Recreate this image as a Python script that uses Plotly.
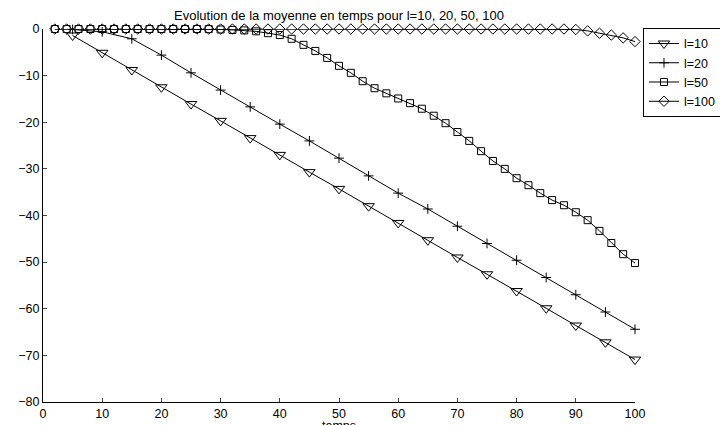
import plotly.graph_objects as go

# ---- data ----
t_coarse = [5, 10, 15, 20, 25, 30, 35, 40, 45, 50, 55, 60, 65, 70, 75, 80, 85, 90, 95, 100]
t_fine = list(range(2, 101, 2))

l10 = [-1.4, -5.1, -8.8, -12.5, -16.1, -19.7, -23.4, -27.0, -30.7, -34.3,
       -38.0, -41.6, -45.3, -49.0, -52.6, -56.2, -59.9, -63.6, -67.2, -70.9]
l20 = [-0.1, -0.6, -2.1, -5.6, -9.4, -13.1, -16.7, -20.4, -24.0, -27.7,
       -31.5, -35.2, -38.6, -42.3, -46.0, -49.6, -53.3, -57.0, -60.7, -64.4]
l50 = [0, 0, 0, 0, 0, 0, 0, 0, 0, 0,
       0, 0, 0, -0.03, -0.1, -0.2, -0.3, -0.5, -0.9, -1.3,
       -2.1, -3.4, -4.7, -6.2, -7.9, -9.4, -11.2, -12.7, -13.8, -14.9,
       -15.9, -17.1, -18.6, -20.2, -22.1, -24.0, -26.2, -28.3, -30.0, -32.0,
       -33.5, -35.2, -36.7, -37.8, -39.3, -41.0, -43.3, -45.9, -48.3, -50.2]
l100 = [0] * 44 + [-0.1, -0.4, -0.9, -1.3, -1.9, -2.7]

names = ["l=10", "l=20", "l=50", "l=100"]
title_text = "Evolution de la moyenne en temps pour l=10, 20, 50, 100"
x_ticks = list(range(0, 101, 10))
y_ticks = list(range(-80, 1, 10))

FONT = "Liberation Sans, Arial, Helvetica, sans-serif"

fig = go.Figure()
series = [
    (t_coarse, l10, names[0], "triangle-down-open", 10),
    (t_coarse, l20, names[1], "cross-thin-open", 7),
    (t_fine, l50, names[2], "square-open", 7),
    (t_fine, l100, names[3], "diamond-open", 8),
]
for xs, ys, nm, sym, sz in series:
    fig.add_trace(go.Scatter(
        x=xs, y=ys, name=nm, mode="lines+markers",
        line=dict(color="black", width=1),
        marker=dict(symbol=sym, size=sz, color="black",
                    line=dict(color="black", width=1)),
        cliponaxis=False,
    ))

# page body adds an 8px offset, so margins are reduced by 8px on left/top
fig.update_layout(
    width=728, height=425,
    margin=dict(l=35, r=101, t=21, b=31, autoexpand=False),
    paper_bgcolor="white", plot_bgcolor="white",
    font=dict(family=FONT, size=12.5, color="black"),
    title=dict(text=title_text, x=0.5, xref="paper", xanchor="center",
               y=1 - 7 / 425, yref="container", yanchor="middle",
               font=dict(size=13)),
    legend=dict(x=1.0135, xanchor="left", y=1.003, yanchor="top",
                bordercolor="black", borderwidth=1, bgcolor="white",
                font=dict(size=12.5), tracegroupgap=0, itemwidth=30),
    showlegend=True,
)
fig.update_xaxes(range=[0, 100], tickvals=x_ticks, ticks="inside", ticklen=4,
                 showline=True, linecolor="black", linewidth=1,
                 showgrid=False, zeroline=False, mirror=False,
                 title=dict(text="temps", standoff=0, font=dict(size=12.5)),
                 tickfont=dict(size=12.5))
fig.update_yaxes(range=[-80, 0], tickvals=y_ticks,
                 ticktext=[str(v).replace("-", "\u2212") for v in y_ticks],
                 ticks="inside", ticklen=4,
                 showline=True, linecolor="black", linewidth=1,
                 showgrid=False, zeroline=False, mirror=False,
                 tickfont=dict(size=12.5))

fig.write_html("out.html")
